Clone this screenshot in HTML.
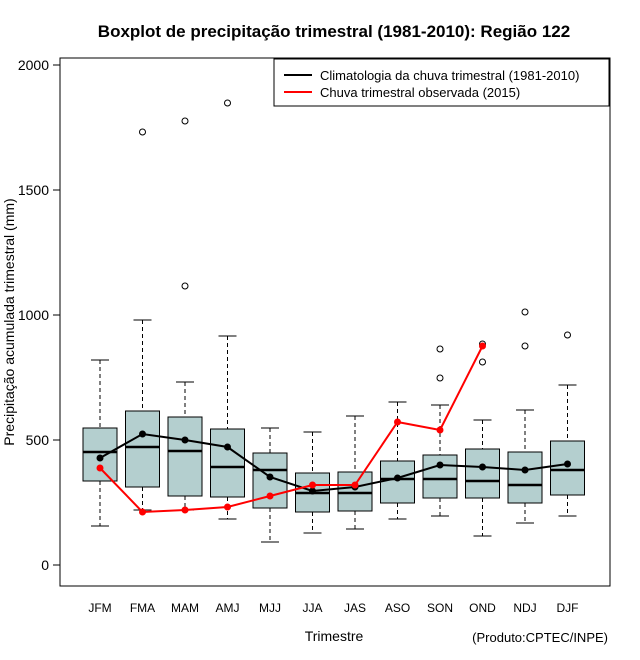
<!DOCTYPE html>
<html><head><meta charset="utf-8"><style>body{margin:0;background:#fff}svg{display:block;font-family:"Liberation Sans",sans-serif}</style></head>
<body>
<svg id="chart" width="640" height="660">
<text x="334" y="37" text-anchor="middle" font-size="17" font-weight="bold">Boxplot de precipitação trimestral (1981-2010): Região 122</text>
<rect x="60" y="58" width="550" height="528" fill="none" stroke="#000"/>
<g id="yaxis"></g>
<g id="xaxis"></g>
<g id="boxes"></g>
<g id="lines"></g>
<text transform="translate(14,322) rotate(-90)" text-anchor="middle" font-size="14" style="paint-order:stroke" stroke="#fff" stroke-width="8">Precipitação acumulada trimestral (mm)</text>
<text x="334" y="641" text-anchor="middle" font-size="14">Trimestre</text>
<text x="608" y="642" text-anchor="end" font-size="13">(Produto:CPTEC/INPE)</text>
<g>
<rect x="274" y="59" width="335" height="47" fill="#fff" stroke="#000"/>
<line x1="284" y1="75" x2="312" y2="75" stroke="#000" stroke-width="2"/>
<text x="320" y="80" font-size="13">Climatologia da chuva trimestral (1981-2010)</text>
<line x1="284" y1="92" x2="312" y2="92" stroke="red" stroke-width="2"/>
<text x="320" y="97" font-size="13">Chuva trimestral observada (2015)</text>
</g>
</svg>
<script>
const categories=["JFM","FMA","MAM","AMJ","MJJ","JJA","JAS","ASO","SON","OND","NDJ","DJF"];
const whiskerHigh=[820,980,732,916,548,532,596,652,640,580,620,720];
const q3=[548,616,592,544,448,368,372,416,440,464,452,496];
const medians=[452,472,456,392,380,288,288,344,344,336,320,380];
const q1=[336,312,276,272,228,212,216,248,268,268,248,280];
const whiskerLow=[156,220,220,184,92,128,144,184,196,116,168,196];
const outliers=[[],[1732],[1116,1776],[1848],[],[],[],[],[864,748],[884,812],[1012,876],[920]];
const climatology=[428,524,500,472,352,296,312,348,400,392,380,404];
const observed=[388,212,220,232,276,320,320,572,540,876];
const yTicks=[0,500,1000,1500,2000];
const NS="http://www.w3.org/2000/svg";
const y=v=>565-v*0.25;
const x=i=>100+i*42.5;
function mk(p,t,a){const e=document.createElementNS(NS,t);for(const k in a)e.setAttribute(k,a[k]);p.appendChild(e);return e;}
const ya=document.getElementById('yaxis');
yTicks.forEach(t=>{mk(ya,'line',{x1:53,x2:60,y1:y(t),y2:y(t),stroke:'#000'});
const tx=mk(ya,'text',{x:49,y:y(t)+5,'text-anchor':'end','font-size':14});tx.textContent=t;

});
const xa=document.getElementById('xaxis');
categories.forEach((c,i)=>{const tx=mk(xa,'text',{x:x(i),y:612,'text-anchor':'middle','font-size':12});tx.textContent=c;

});
const bx=document.getElementById('boxes');
categories.forEach((c,i)=>{const g=mk(bx,'g',{});


const cx=x(i),hw=17;
mk(g,'line',{x1:cx,x2:cx,y1:y(whiskerHigh[i]),y2:y(q3[i]),stroke:'#000','stroke-dasharray':'4,3'});
mk(g,'line',{x1:cx,x2:cx,y1:y(q1[i]),y2:y(whiskerLow[i]),stroke:'#000','stroke-dasharray':'4,3'});
mk(g,'line',{x1:cx-9,x2:cx+9,y1:y(whiskerHigh[i]),y2:y(whiskerHigh[i]),stroke:'#000'});
mk(g,'line',{x1:cx-9,x2:cx+9,y1:y(whiskerLow[i]),y2:y(whiskerLow[i]),stroke:'#000'});
mk(g,'rect',{x:cx-hw,y:y(q3[i]),width:hw*2,height:y(q1[i])-y(q3[i]),fill:'#b4cfcf',stroke:'#000'});
mk(g,'line',{x1:cx-hw,x2:cx+hw,y1:y(medians[i]),y2:y(medians[i]),stroke:'#000','stroke-width':2.5});
outliers[i].forEach(o=>mk(g,'circle',{cx:cx,cy:y(o),r:3,fill:'none',stroke:'#000'}));});
const ln=document.getElementById('lines');
function series(vals,col,name){const p=mk(ln,'polyline',{points:vals.map((v,i)=>x(i)+','+y(v)).join(' '),fill:'none',stroke:col,'stroke-width':2});


vals.forEach((v,i)=>{const c=mk(ln,'circle',{cx:x(i),cy:y(v),r:3.5,fill:col});

});}
series(climatology,'#000','climatology');
series(observed,'red','observed');
</script>
</body></html>
